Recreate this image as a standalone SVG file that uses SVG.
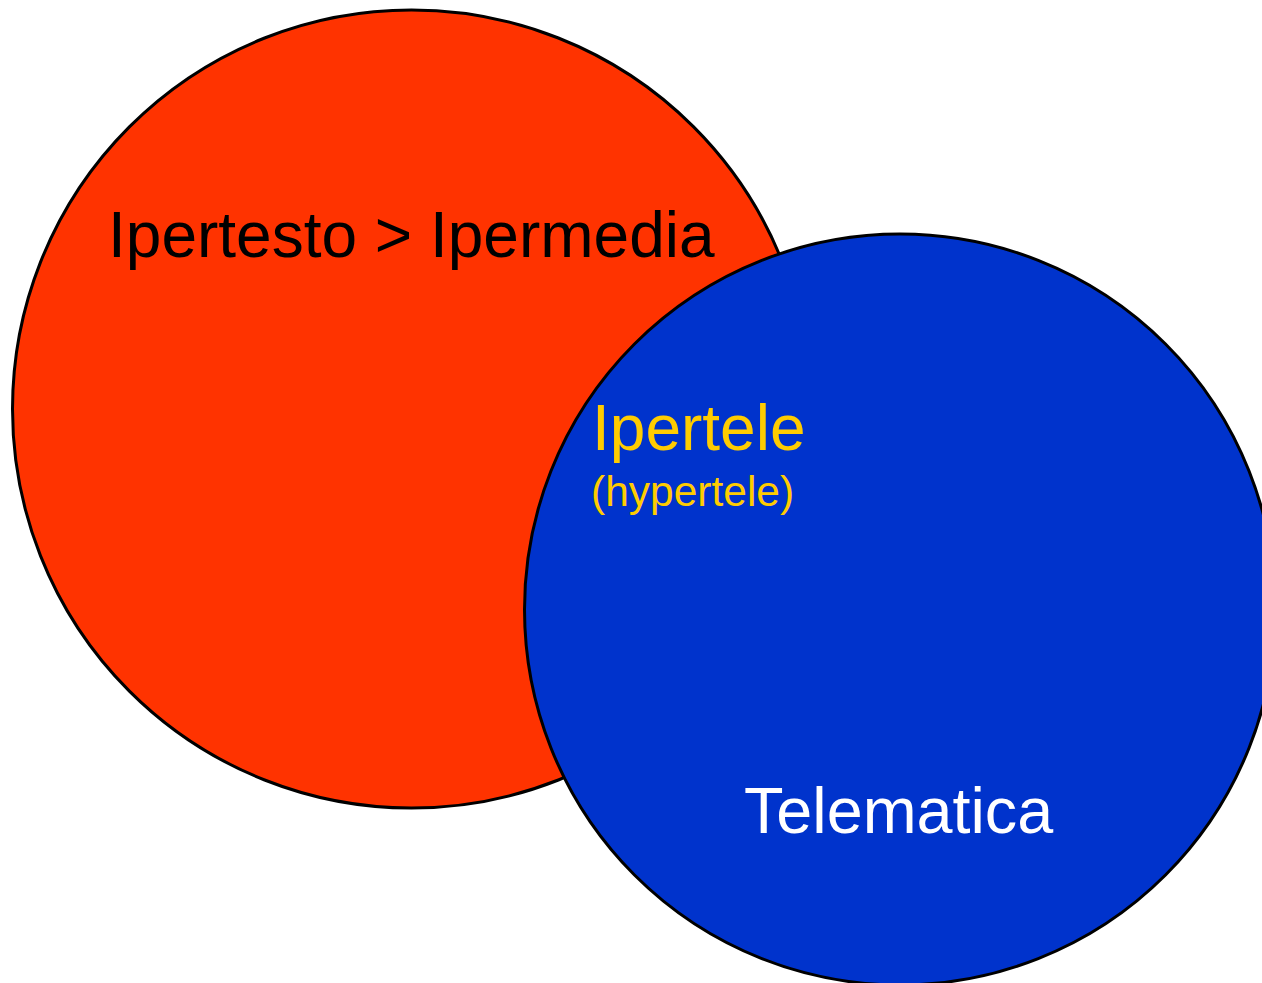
<svg xmlns="http://www.w3.org/2000/svg" width="1262" height="983" viewBox="0 0 1262 983">
<style>
.c{stroke:#000;stroke-width:3}
.t{font-family:"Liberation Sans",Arial,sans-serif}
</style>
<rect width="1262" height="983" fill="#fff"/>
<g id="ipertesto">
<circle class="c" cx="411.5" cy="409" r="399" fill="#FF3300"/>
<text class="t" x="108" y="257" font-size="64" fill="#000">Ipertesto &gt; Ipermedia</text>
</g>
<g id="telematica">
<circle class="c" cx="900" cy="609.5" r="375.5" fill="#0033CC"/>
<text class="t" x="592" y="450" font-size="64" fill="#FFCC00">Ipertele</text>
<text class="t" x="591" y="506" font-size="42.5" fill="#FFCC00">(hypertele)</text>
<text class="t" x="744" y="833" font-size="64.7" fill="#fff">Telematica</text>
</g>
<g id="connectors"/>
</svg>
